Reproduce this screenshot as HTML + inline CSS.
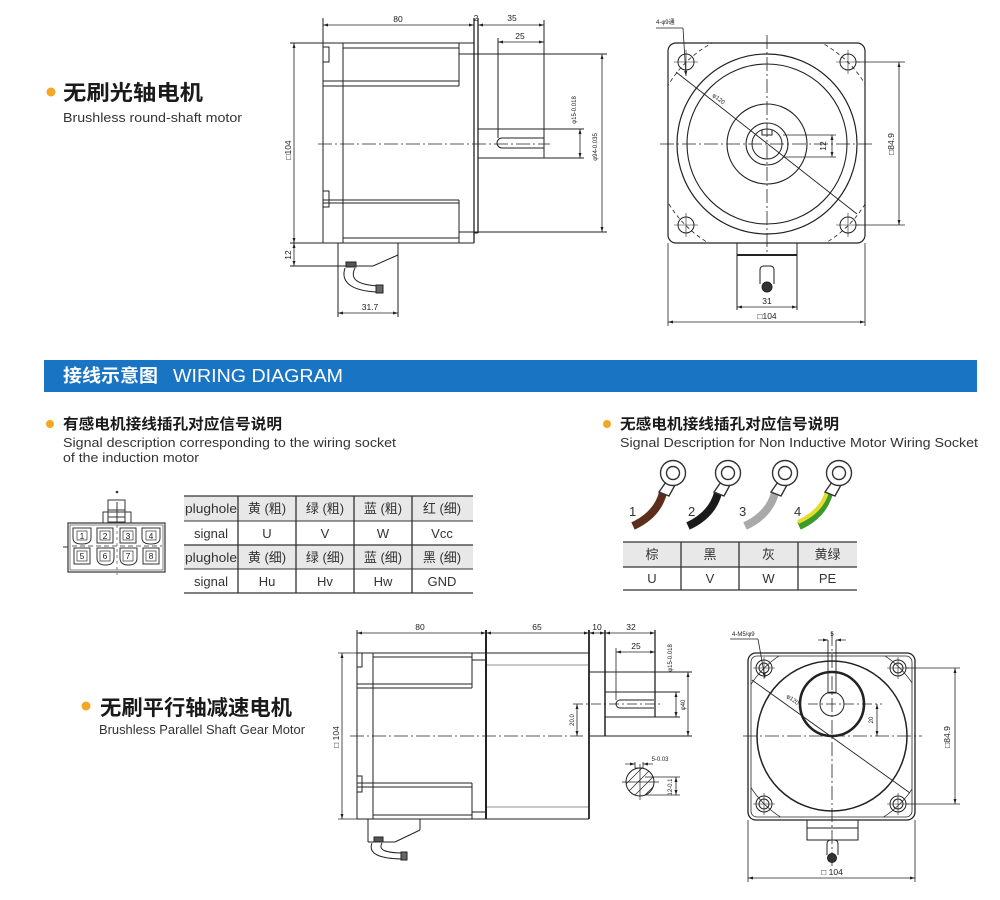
<!DOCTYPE html>
<html><head><meta charset="utf-8"><style>
html,body{margin:0;padding:0;background:#fff;}
svg{display:block;}
.d{font-family:"Liberation Sans","Noto Sans CJK SC",sans-serif;font-size:8.5px;fill:#222;}
.s{font-family:"Liberation Sans","Noto Sans CJK SC",sans-serif;font-size:6px;fill:#222;}
.h1{font-family:"Liberation Sans","Noto Sans CJK SC",sans-serif;font-size:21px;font-weight:bold;fill:#1a1a1a;}
.h2{font-family:"Liberation Sans","Noto Sans CJK SC",sans-serif;font-size:15px;font-weight:bold;fill:#1a1a1a;}
.en{font-family:"Liberation Sans",sans-serif;font-size:12.5px;fill:#333;}
.en2{font-family:"Liberation Sans",sans-serif;font-size:13px;fill:#333;}
.tb{font-family:"Liberation Sans","Noto Sans CJK SC",sans-serif;font-size:13px;fill:#333;}
.ban{font-family:"Liberation Sans","Noto Sans CJK SC",sans-serif;font-size:18px;fill:#fff;}
</style></head><body>
<svg width="1000" height="900" viewBox="0 0 1000 900" xmlns="http://www.w3.org/2000/svg">
<defs>
<marker id="a" viewBox="0 0 10 10" refX="10" refY="5" markerWidth="5" markerHeight="5" markerUnits="userSpaceOnUse" orient="auto-start-reverse"><path d="M0,2 L10,5 L0,8z" fill="#222"/></marker>
<clipPath id="cp1"><rect x="668" y="43" width="197" height="200" rx="8"/></clipPath>
<clipPath id="cp2"><rect x="751" y="656" width="161" height="161" rx="6"/></clipPath>
<clipPath id="cp3"><circle cx="640" cy="782" r="14"/></clipPath>
</defs>

<!-- ===== Headings ===== -->
<circle cx="51" cy="92" r="4.5" fill="#f5a623"/>
<text x="63" y="100" class="h1" textLength="140" lengthAdjust="spacingAndGlyphs">无刷光轴电机</text>
<text x="63" y="122" class="en" textLength="179" lengthAdjust="spacingAndGlyphs">Brushless round-shaft motor</text>

<rect x="44" y="360" width="933" height="32" fill="#1a74c4"/>
<text x="63" y="382" class="ban" font-weight="bold" textLength="95" lengthAdjust="spacingAndGlyphs">接线示意图</text>
<text x="173" y="382" class="ban" textLength="170" lengthAdjust="spacingAndGlyphs">WIRING DIAGRAM</text>

<circle cx="50" cy="424" r="4" fill="#f5a623"/>
<text x="63" y="429" class="h2" textLength="219" lengthAdjust="spacingAndGlyphs">有感电机接线插孔对应信号说明</text>
<text x="63" y="447" class="en2" textLength="333" lengthAdjust="spacingAndGlyphs">Signal description corresponding to the wiring socket</text>
<text x="63" y="462" class="en2" textLength="136" lengthAdjust="spacingAndGlyphs">of the induction motor</text>

<circle cx="607" cy="424" r="4" fill="#f5a623"/>
<text x="620" y="429" class="h2" textLength="219" lengthAdjust="spacingAndGlyphs">无感电机接线插孔对应信号说明</text>
<text x="620" y="447" class="en2" textLength="358" lengthAdjust="spacingAndGlyphs">Signal Description for Non Inductive Motor Wiring Socket</text>

<circle cx="86" cy="706" r="4.5" fill="#f5a623"/>
<text x="100" y="715" class="h1" textLength="192" lengthAdjust="spacingAndGlyphs">无刷平行轴减速电机</text>
<text x="99" y="734" class="en" textLength="206" lengthAdjust="spacingAndGlyphs">Brushless Parallel Shaft Gear Motor</text>

<!-- ===== Drawing 1: side view top ===== -->
<g stroke="#222" stroke-width="1" fill="none">
<line x1="323" y1="18" x2="323" y2="243"/>
<line x1="343" y1="43" x2="343" y2="243"/>
<line x1="323" y1="43" x2="474" y2="43"/>
<line x1="323" y1="243" x2="474" y2="243"/>
<line x1="343" y1="48" x2="459" y2="48"/>
<line x1="323" y1="81" x2="459" y2="81"/>
<line x1="323" y1="86" x2="459" y2="86"/>
<line x1="459" y1="43" x2="459" y2="86"/>
<line x1="323" y1="200" x2="459" y2="200"/>
<line x1="323" y1="203" x2="459" y2="203"/>
<line x1="343" y1="238" x2="459" y2="238"/>
<line x1="459" y1="200" x2="459" y2="243"/>
<rect x="323" y="47" width="6" height="15"/>
<rect x="323" y="191" width="6" height="16"/>
<line x1="474" y1="18" x2="474" y2="243" stroke-width="1.3"/>
<line x1="478" y1="18" x2="478" y2="233" stroke-width="1.3"/>
<line x1="474" y1="233" x2="478" y2="233"/>
<line x1="459" y1="54" x2="607" y2="54"/>
<line x1="459" y1="232" x2="607" y2="232"/>
<line x1="478" y1="129" x2="584" y2="129"/>
<line x1="478" y1="158" x2="584" y2="158"/>
<line x1="544" y1="20" x2="544" y2="158"/>
<line x1="498" y1="38" x2="498" y2="138"/>
<path d="M544,138 H502 A5,5 0 0 0 502,148 H544"/>
<line x1="318" y1="144" x2="550" y2="144" stroke-dasharray="14 3 2 3" stroke-width="0.8"/>
<line x1="290" y1="43" x2="323" y2="43"/>
<line x1="290" y1="243" x2="323" y2="243"/>
<line x1="338" y1="243" x2="338" y2="317"/>
<line x1="398" y1="243" x2="398" y2="317"/>
<line x1="290" y1="266" x2="373" y2="266"/>
<line x1="373" y1="266" x2="398" y2="255"/>
<rect x="346" y="262" width="10" height="5" fill="#555"/>
<path d="M345,268 C341,280 348,291 378,292"/>
<path d="M355,268 C350,278 355,285 380,286"/>
<rect x="376" y="285" width="7" height="8" fill="#666"/>
</g>
<g stroke="#222" stroke-width="0.8" fill="none">
<line x1="323" y1="25" x2="474" y2="25" marker-start="url(#a)" marker-end="url(#a)"/>
<line x1="478" y1="25" x2="544" y2="25" marker-start="url(#a)" marker-end="url(#a)"/>
<line x1="498" y1="42" x2="544" y2="42" marker-start="url(#a)" marker-end="url(#a)"/>
<line x1="580" y1="129" x2="580" y2="158" marker-start="url(#a)" marker-end="url(#a)"/>
<line x1="602" y1="54" x2="602" y2="232" marker-start="url(#a)" marker-end="url(#a)"/>
<line x1="294" y1="43" x2="294" y2="243" marker-start="url(#a)" marker-end="url(#a)"/>
<line x1="294" y1="243" x2="294" y2="266" marker-start="url(#a)" marker-end="url(#a)"/>
<line x1="338" y1="313" x2="398" y2="313" marker-start="url(#a)" marker-end="url(#a)"/>
</g>
<text x="398" y="22" class="d" text-anchor="middle">80</text>
<text x="476" y="21" class="d" text-anchor="middle">2</text>
<text x="512" y="21" class="d" text-anchor="middle">35</text>
<text x="520" y="39" class="d" text-anchor="middle">25</text>
<text x="370" y="310" class="d" text-anchor="middle">31.7</text>
<text transform="translate(291,150) rotate(-90)" class="d" text-anchor="middle">□104</text>
<text transform="translate(291,255) rotate(-90)" class="d" text-anchor="middle">12</text>
<text transform="translate(576,110) rotate(-90)" class="s" text-anchor="middle">φ15-0.018</text>
<text transform="translate(597,147) rotate(-90)" class="s" text-anchor="middle">φ94-0.035</text>

<!-- ===== Drawing 2: front view top ===== -->
<g stroke="#222" stroke-width="1" fill="none">
<rect x="668" y="43" width="197" height="200" rx="8" stroke-width="1.2"/>
<circle cx="767" cy="144" r="115" stroke-dasharray="4 3" clip-path="url(#cp1)" stroke-width="0.8"/>
<circle cx="767" cy="144" r="90" stroke-width="1.2"/>
<circle cx="767" cy="144" r="80" stroke-width="1.1"/>
<circle cx="767" cy="144" r="40" stroke-width="1.1"/>
<circle cx="767" cy="144" r="21" stroke-width="1.1"/>
<circle cx="767" cy="144" r="15"/>
<path d="M762,130 V135 H772 V130"/>
<circle cx="686" cy="62" r="8"/>
<circle cx="848" cy="62" r="8"/>
<circle cx="686" cy="225" r="8"/>
<circle cx="848" cy="225" r="8"/>
<path d="M674,62 H698 M686,50 V74 M836,62 H860 M848,50 V74 M674,225 H698 M686,213 V237 M836,225 H860 M848,213 V237" stroke-width="0.6"/>
<line x1="660" y1="144" x2="873" y2="144" stroke-dasharray="14 3 2 3" stroke-width="0.8"/>
<line x1="767" y1="35" x2="767" y2="252" stroke-dasharray="14 3 2 3" stroke-width="0.8"/>
<line x1="676" y1="72" x2="857" y2="214" stroke-width="0.9"/>
<line x1="656" y1="28" x2="683" y2="28" stroke-width="0.8"/>
<line x1="683" y1="28" x2="686" y2="76" stroke-width="0.8" marker-end="url(#a)"/>
<line x1="783" y1="135" x2="836" y2="135" stroke-width="0.8"/>
<line x1="783" y1="157" x2="836" y2="157" stroke-width="0.8"/>
<line x1="832" y1="135" x2="832" y2="157" stroke-width="0.8" marker-start="url(#a)" marker-end="url(#a)"/>
<line x1="856" y1="62" x2="905" y2="62" stroke-width="0.8"/>
<line x1="856" y1="225" x2="905" y2="225" stroke-width="0.8"/>
<line x1="899" y1="62" x2="899" y2="225" stroke-width="0.8" marker-start="url(#a)" marker-end="url(#a)"/>
<line x1="737" y1="243" x2="737" y2="310"/>
<line x1="797" y1="243" x2="797" y2="310"/>
<line x1="737" y1="255" x2="797" y2="255" stroke-width="2"/>
<path d="M760,284 V270 Q760,266 764,266 H770 Q774,266 774,270 V284"/>
<circle cx="767" cy="287" r="5" fill="#333"/>
<line x1="737" y1="307" x2="797" y2="307" stroke-width="0.8" marker-start="url(#a)" marker-end="url(#a)"/>
<line x1="668" y1="243" x2="668" y2="326" stroke-width="0.8"/>
<line x1="865" y1="243" x2="865" y2="326" stroke-width="0.8"/>
<line x1="668" y1="322" x2="865" y2="322" stroke-width="0.8" marker-start="url(#a)" marker-end="url(#a)"/>
</g>
<text x="656" y="24" class="s">4-φ9通</text>
<text transform="translate(712,96) rotate(38)" class="s" font-size="7">φ120</text>
<text transform="translate(826,146) rotate(-90)" class="d" text-anchor="middle">12</text>
<text transform="translate(894,144) rotate(-90)" class="d" text-anchor="middle">□84.9</text>
<text x="767" y="304" class="d" text-anchor="middle">31</text>
<text x="767" y="319" class="d" text-anchor="middle">□104</text>

<!-- ===== Socket ===== -->
<g stroke="#333" stroke-width="1" fill="none">
<circle cx="117" cy="492" r="0.8" fill="#333"/>
<rect x="103" y="512" width="28" height="11"/>
<rect x="108" y="500" width="17" height="22"/>
<line x1="117" y1="502" x2="117" y2="522"/>
<line x1="108" y1="510" x2="125" y2="510"/>
<line x1="108" y1="517" x2="125" y2="517"/>
<rect x="68" y="523" width="97" height="49" stroke-width="1.2"/>
<rect x="70" y="525" width="93" height="45" stroke-width="0.6"/>
<line x1="63" y1="547" x2="68" y2="547"/>
<line x1="72" y1="546" x2="162" y2="546" stroke-dasharray="5 3" stroke-width="0.7"/>
<line x1="117" y1="525" x2="117" y2="575" stroke-dasharray="3 3" stroke-width="0.6"/>
<path d="M73,528 H91 V538 Q91,544 82,544 Q73,544 73,538 Z"/>
<rect x="97" y="528" width="16" height="15"/>
<rect x="120" y="528" width="16" height="15"/>
<path d="M142,528 H160 V538 Q160,544 151,544 Q142,544 142,538 Z"/>
<rect x="74" y="548" width="16" height="16"/>
<path d="M97,548 H114 V558 Q114,565 105.5,565 Q97,565 97,558 Z"/>
<path d="M120,548 H137 V558 Q137,565 128.5,565 Q120,565 120,558 Z"/>
<rect x="143" y="548" width="16" height="16"/>
<rect x="77" y="531" width="10" height="9" stroke-width="0.7"/>
<rect x="100" y="531" width="10" height="9" stroke-width="0.7"/>
<rect x="123" y="531" width="10" height="9" stroke-width="0.7"/>
<rect x="146" y="531" width="10" height="9" stroke-width="0.7"/>
<rect x="77" y="551" width="10" height="10" stroke-width="0.7"/>
<rect x="100" y="551" width="10" height="10" stroke-width="0.7"/>
<rect x="123" y="551" width="10" height="10" stroke-width="0.7"/>
<rect x="146" y="551" width="10" height="10" stroke-width="0.7"/>
</g>
<g class="d" font-size="8" text-anchor="middle">
<text x="82" y="539">1</text><text x="105" y="539">2</text><text x="128" y="539">3</text><text x="151" y="539">4</text>
<text x="82" y="559">5</text><text x="105" y="559">6</text><text x="128" y="559">7</text><text x="151" y="559">8</text>
</g>

<!-- ===== Left table ===== -->
<rect x="184" y="496" width="289" height="25" fill="#e8e8e8"/>
<rect x="184" y="545" width="289" height="24" fill="#e8e8e8"/>
<g stroke="#333" stroke-width="1.3">
<line x1="184" y1="496" x2="473" y2="496"/>
<line x1="184" y1="521" x2="473" y2="521" stroke-width="1"/>
<line x1="184" y1="545" x2="473" y2="545"/>
<line x1="184" y1="569" x2="473" y2="569" stroke-width="1"/>
<line x1="184" y1="593" x2="473" y2="593"/>
<line x1="238" y1="496" x2="238" y2="593"/>
<line x1="296" y1="496" x2="296" y2="593"/>
<line x1="354" y1="496" x2="354" y2="593"/>
<line x1="412" y1="496" x2="412" y2="593"/>
</g>
<g class="tb" text-anchor="middle">
<text x="211" y="513" font-size="12.5" textLength="52" lengthAdjust="spacingAndGlyphs">plughole</text>
<text x="267" y="513">黄 (粗)</text><text x="325" y="513">绿 (粗)</text><text x="383" y="513">蓝 (粗)</text><text x="442" y="513">红 (细)</text>
<text x="211" y="538">signal</text>
<text x="267" y="538">U</text><text x="325" y="538">V</text><text x="383" y="538">W</text><text x="442" y="538">Vcc</text>
<text x="211" y="562" font-size="12.5" textLength="52" lengthAdjust="spacingAndGlyphs">plughole</text>
<text x="267" y="562">黄 (细)</text><text x="325" y="562">绿 (细)</text><text x="383" y="562">蓝 (细)</text><text x="442" y="562">黑 (细)</text>
<text x="211" y="586">signal</text>
<text x="267" y="586">Hu</text><text x="325" y="586">Hv</text><text x="383" y="586">Hw</text><text x="442" y="586">GND</text>
</g>

<!-- ===== Wires ===== -->
<g>
<path d="M663,493 Q657,515 633,526" stroke="#5b2f1c" stroke-width="8" fill="none"/>
<path d="M718,493 Q712,515 688,526" stroke="#1a1a1a" stroke-width="8" fill="none"/>
<path d="M775,493 Q769,515 745,526" stroke="#a9a9a9" stroke-width="8" fill="none"/>
<path d="M829,493 Q823,515 799,526" stroke="#3a9a2a" stroke-width="8" fill="none"/>
<path d="M827,492 Q821,512 798,522" stroke="#e6dc2a" stroke-width="4" fill="none"/>
</g>
<g stroke="#333" stroke-width="1.4" fill="#fff">
<path d="M666,482 L675,485 L669,496 L659,492 Z"/>
<path d="M721,482 L730,485 L724,496 L714,492 Z"/>
<path d="M778,482 L787,485 L781,496 L771,492 Z"/>
<path d="M832,482 L841,485 L835,496 L825,492 Z"/>
<circle cx="673" cy="473" r="12.5"/><circle cx="673" cy="473" r="6.5"/>
<circle cx="728" cy="473" r="12.5"/><circle cx="728" cy="473" r="6.5"/>
<circle cx="785" cy="473" r="12.5"/><circle cx="785" cy="473" r="6.5"/>
<circle cx="839" cy="473" r="12.5"/><circle cx="839" cy="473" r="6.5"/>
</g>
<g class="tb" font-size="13" fill="#222">
<text x="629" y="516">1</text><text x="688" y="516">2</text><text x="739" y="516">3</text><text x="794" y="516">4</text>
</g>

<!-- ===== Right table ===== -->
<rect x="623" y="542" width="234" height="25" fill="#e8e8e8"/>
<g stroke="#333" stroke-width="1.3">
<line x1="623" y1="542" x2="857" y2="542"/>
<line x1="623" y1="567" x2="857" y2="567"/>
<line x1="623" y1="590" x2="857" y2="590"/>
<line x1="681" y1="542" x2="681" y2="590"/>
<line x1="739" y1="542" x2="739" y2="590"/>
<line x1="798" y1="542" x2="798" y2="590"/>
</g>
<g class="tb" text-anchor="middle">
<text x="652" y="559">棕</text><text x="710" y="559">黑</text><text x="768.5" y="559">灰</text><text x="827.5" y="559">黄绿</text>
<text x="652" y="583">U</text><text x="710" y="583">V</text><text x="768.5" y="583">W</text><text x="827.5" y="583">PE</text>
</g>

<!-- ===== Drawing 3: gear motor side ===== -->
<g stroke="#222" stroke-width="1" fill="none">
<line x1="357" y1="630" x2="357" y2="819"/>
<line x1="373" y1="653" x2="373" y2="819"/>
<line x1="357" y1="653" x2="486" y2="653"/>
<line x1="357" y1="819" x2="486" y2="819"/>
<line x1="373" y1="657" x2="472" y2="657"/>
<line x1="357" y1="684" x2="472" y2="684"/>
<line x1="357" y1="688" x2="472" y2="688"/>
<line x1="472" y1="653" x2="472" y2="688"/>
<rect x="472" y="653" width="14" height="7"/>
<line x1="357" y1="783" x2="472" y2="783"/>
<line x1="357" y1="787" x2="472" y2="787"/>
<line x1="373" y1="815" x2="472" y2="815"/>
<line x1="472" y1="783" x2="472" y2="819"/>
<rect x="472" y="812" width="14" height="7"/>
<rect x="357" y="653" width="5" height="14"/>
<rect x="357" y="776" width="5" height="16"/>
<line x1="486" y1="630" x2="486" y2="819" stroke-width="2"/>
<line x1="486" y1="653" x2="589" y2="653"/>
<line x1="486" y1="819" x2="589" y2="819"/>
<line x1="486" y1="665" x2="589" y2="665" stroke-width="0.6"/>
<line x1="486" y1="807" x2="589" y2="807" stroke-width="0.6"/>
<line x1="589" y1="630" x2="589" y2="819" stroke-width="1.8"/>
<line x1="589" y1="672" x2="692" y2="672"/>
<line x1="605" y1="630" x2="605" y2="736" stroke-width="1.5"/>
<line x1="589" y1="736" x2="692" y2="736"/>
<line x1="605" y1="692" x2="680" y2="692"/>
<line x1="605" y1="717" x2="680" y2="717"/>
<line x1="655" y1="630" x2="655" y2="717" stroke-width="1.3"/>
<line x1="616" y1="648" x2="616" y2="700" stroke-width="0.8"/>
<path d="M654,700 H620 A4,4 0 0 0 620,708 H654"/>
<line x1="573" y1="704" x2="662" y2="704" stroke-dasharray="10 3 2 3" stroke-width="0.8"/>
<line x1="350" y1="736" x2="583" y2="736" stroke-dasharray="14 3 2 3" stroke-width="0.8"/>
<line x1="338" y1="653" x2="357" y2="653" stroke-width="0.8"/>
<line x1="338" y1="819" x2="357" y2="819" stroke-width="0.8"/>
<line x1="368" y1="819" x2="368" y2="842"/>
<line x1="420" y1="819" x2="420" y2="830"/>
<line x1="420" y1="830" x2="395" y2="842"/>
<line x1="368" y1="842" x2="395" y2="842"/>
<rect x="374" y="837" width="9" height="5" fill="#555"/>
<path d="M372,843 C368,853 378,859 404,859"/>
<path d="M382,843 C378,850 385,853 405,853"/>
<rect x="401" y="852" width="6" height="8" fill="#666"/>
<!-- section -->
<g clip-path="url(#cp3)" stroke-width="0.7">
<path d="M620,780 L642,758 M620,790 L652,758 M622,798 L660,760 M630,800 L660,770 M640,800 L660,780"/>
</g>
<circle cx="640" cy="782" r="14"/>
<path d="M635,768 V762 M643,768 V762 M635,768 H643" stroke-width="0.8"/>
<line x1="622" y1="782" x2="659" y2="782" stroke-width="0.7"/>
<line x1="640" y1="764" x2="640" y2="800" stroke-width="0.7"/>
<line x1="625" y1="764" x2="635" y2="764" stroke-width="0.7" marker-end="url(#a)"/>
<line x1="653" y1="764" x2="643" y2="764" stroke-width="0.7" marker-end="url(#a)"/>
<line x1="645" y1="777" x2="680" y2="777" stroke-width="0.7"/>
<line x1="645" y1="795" x2="680" y2="795" stroke-width="0.7"/>
</g>
<g stroke="#222" stroke-width="0.8" fill="none">
<line x1="357" y1="633" x2="486" y2="633" marker-start="url(#a)" marker-end="url(#a)"/>
<line x1="486" y1="633" x2="589" y2="633" marker-start="url(#a)" marker-end="url(#a)"/>
<line x1="589" y1="633" x2="605" y2="633" marker-start="url(#a)" marker-end="url(#a)"/>
<line x1="605" y1="633" x2="655" y2="633" marker-start="url(#a)" marker-end="url(#a)"/>
<line x1="616" y1="652" x2="655" y2="652" marker-start="url(#a)" marker-end="url(#a)"/>
<line x1="676" y1="692" x2="676" y2="717" marker-start="url(#a)" marker-end="url(#a)"/>
<line x1="688" y1="672" x2="688" y2="736" marker-start="url(#a)" marker-end="url(#a)"/>
<line x1="577" y1="704" x2="577" y2="736" marker-start="url(#a)" marker-end="url(#a)"/>
<line x1="342" y1="653" x2="342" y2="819" marker-start="url(#a)" marker-end="url(#a)"/>
<line x1="676" y1="777" x2="676" y2="795" marker-start="url(#a)" marker-end="url(#a)"/>
</g>
<text x="420" y="630" class="d" text-anchor="middle">80</text>
<text x="537" y="630" class="d" text-anchor="middle">65</text>
<text x="597" y="630" class="d" text-anchor="middle">10</text>
<text x="631" y="630" class="d" text-anchor="middle">32</text>
<text x="636" y="649" class="d" text-anchor="middle">25</text>
<text transform="translate(672,658) rotate(-90)" class="s" text-anchor="middle">φ15-0.018</text>
<text transform="translate(685,705) rotate(-90)" class="s" text-anchor="middle">φ40</text>
<text transform="translate(574,720) rotate(-90)" class="s" font-size="7" text-anchor="middle">20.0</text>
<text transform="translate(339,737) rotate(-90)" class="d" text-anchor="middle">□ 104</text>
<text x="660" y="761" class="s" text-anchor="middle">5-0.03</text>
<text transform="translate(672,787) rotate(-90)" class="s" text-anchor="middle">12-0.1</text>

<!-- ===== Drawing 4: gear motor front ===== -->
<g stroke="#222" stroke-width="1" fill="none">
<rect x="748" y="653" width="167" height="167" rx="8" stroke-width="1.3"/>
<rect x="751" y="656" width="161" height="161" rx="6" stroke-width="0.8"/>
<circle cx="832" cy="736" r="96" clip-path="url(#cp2)" stroke-width="0.7"/>
<circle cx="832" cy="736" r="75" stroke-width="1.5" fill="#fff"/>
<circle cx="832" cy="704" r="32" stroke-width="2.6"/>
<circle cx="832" cy="704" r="12"/>
<path d="M828,640 V693 H836 V640" stroke-width="0.9"/>
<circle cx="764" cy="668" r="8"/><circle cx="764" cy="668" r="5"/>
<circle cx="898" cy="668" r="8"/><circle cx="898" cy="668" r="5"/>
<circle cx="764" cy="804" r="8"/><circle cx="764" cy="804" r="5"/>
<circle cx="898" cy="804" r="8"/><circle cx="898" cy="804" r="5"/>
<path d="M753,668 H775 M764,657 V679 M887,668 H909 M898,657 V679 M753,804 H775 M764,793 V815 M887,804 H909 M898,793 V815" stroke-width="0.6"/>
<line x1="743" y1="736" x2="922" y2="736" stroke-dasharray="14 3 2 3" stroke-width="0.8"/>
<line x1="832" y1="632" x2="832" y2="866" stroke-dasharray="14 3 2 3" stroke-width="0.8"/>
<line x1="808" y1="704" x2="882" y2="704" stroke-dasharray="10 3 2 3" stroke-width="0.8"/>
<line x1="752" y1="680" x2="910" y2="793" stroke-width="0.9"/>
<line x1="730" y1="639" x2="758" y2="639" stroke-width="0.8"/>
<line x1="758" y1="639" x2="765" y2="678" stroke-width="0.8" marker-end="url(#a)"/>
<line x1="818" y1="640" x2="828" y2="640" stroke-width="0.7" marker-end="url(#a)"/>
<line x1="846" y1="640" x2="836" y2="640" stroke-width="0.7" marker-end="url(#a)"/>
<line x1="877" y1="704" x2="877" y2="736" stroke-width="0.8" marker-start="url(#a)" marker-end="url(#a)"/>
<line x1="906" y1="668" x2="960" y2="668" stroke-width="0.8"/>
<line x1="906" y1="804" x2="960" y2="804" stroke-width="0.8"/>
<line x1="955" y1="668" x2="955" y2="804" stroke-width="0.8" marker-start="url(#a)" marker-end="url(#a)"/>
<rect x="807" y="820" width="51" height="20"/>
<line x1="807" y1="828" x2="858" y2="828"/>
<path d="M827,855 V844 Q827,840 831,840 H834 Q838,840 838,844 V855"/>
<circle cx="832" cy="858" r="4.5" fill="#333"/>
<line x1="748" y1="820" x2="748" y2="882" stroke-width="0.8"/>
<line x1="915" y1="820" x2="915" y2="882" stroke-width="0.8"/>
<line x1="748" y1="878" x2="915" y2="878" stroke-width="0.8" marker-start="url(#a)" marker-end="url(#a)"/>
</g>
<text x="732" y="636" class="s">4-M5/φ9</text>
<text x="832" y="636" class="s" font-size="7" text-anchor="middle">5</text>
<text transform="translate(786,697) rotate(36)" class="s" font-size="7">φ120</text>
<text transform="translate(873,720) rotate(-90)" class="s" font-size="7" text-anchor="middle">20</text>
<text transform="translate(950,737) rotate(-90)" class="d" text-anchor="middle">□84.9</text>
<text x="832" y="875" class="d" text-anchor="middle">□ 104</text>
</svg>
</body></html>
